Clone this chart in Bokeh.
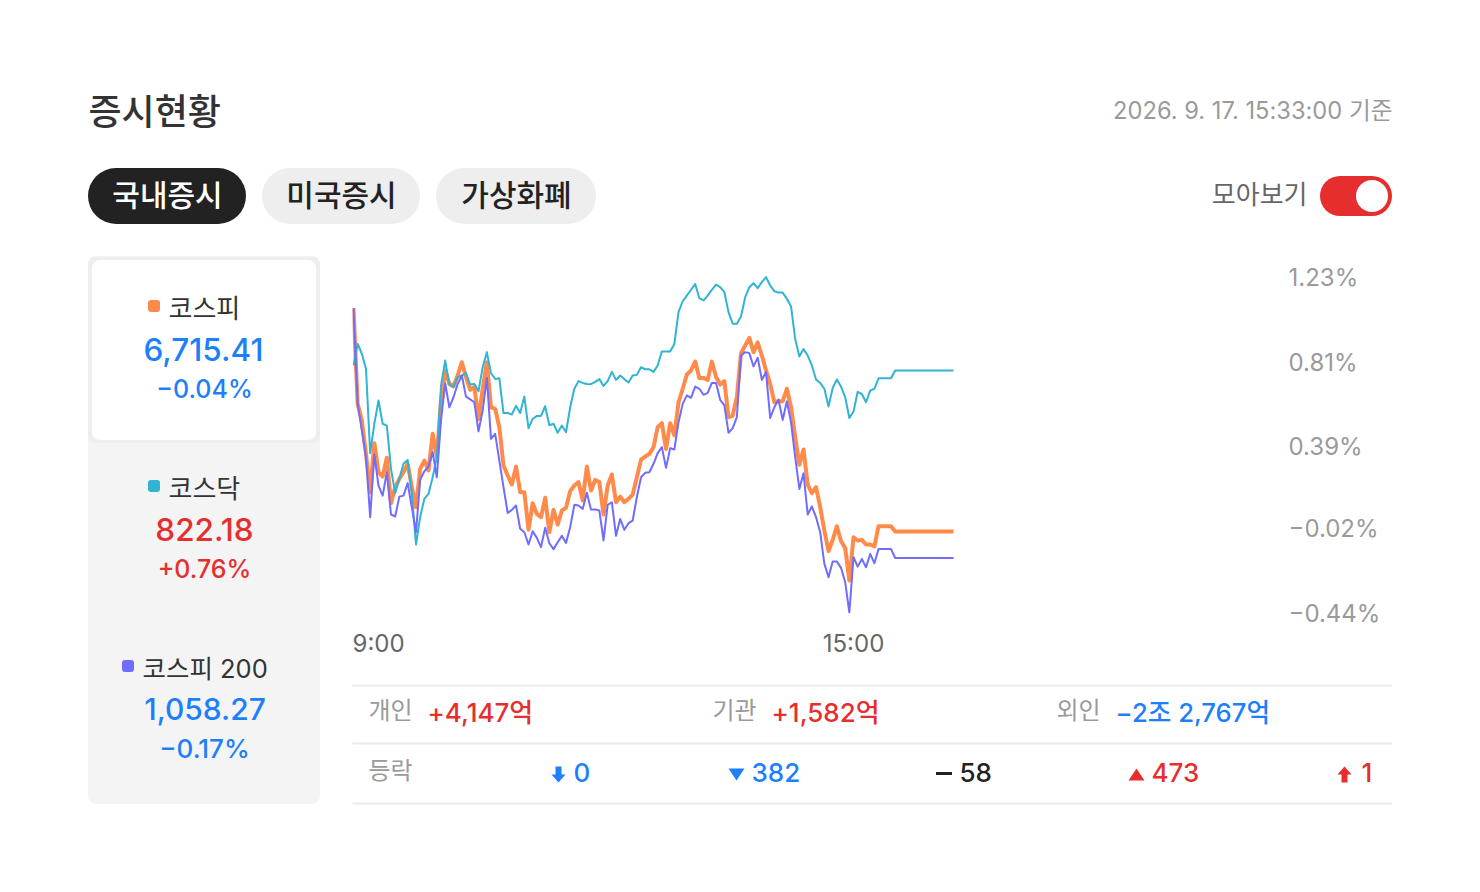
from bokeh.plotting import figure
from bokeh.layouts import column, row
from bokeh.models import Range1d, LinearAxis, FixedTicker, Label, BoxAnnotation, PolyAnnotation
from bokeh.embed import file_html
from bokeh.resources import INLINE

FONT = "Inter, 'Noto Sans CJK KR'"
FONT_M = "'Noto Sans CJK KR Medium', 'Noto Sans CJK KR'"
FONT_V = "'Inter Medium', Inter, 'Noto Sans CJK KR Medium', 'Noto Sans CJK KR'"

minutes = list(range(540, 973, 3))

kospi = [1.078,.602,.519,.353,.163,.406,.262,.241,.334,.108,.188,.229,.262,.304,.188,.088,.279,.320,.271,.453,
 .337,.619,.768,.701,.688,.743,.809,.735,.672,.685,.527,.677,.809,.585,.577,.486,.295,.246,.201,.290,
 .163,.163,-.024,.108,.055,.039,.135,-.036,.075,.002,.072,.085,.168,.196,.213,.122,.290,.171,.224,.213,
 .052,.196,.251,.113,.141,.113,.130,.151,.237,.325,.340,.353,.387,.486,.506,.378,.506,.445,.610,.677,
 .748,.768,.812,.731,.731,.721,.812,.735,.698,.715,.536,.544,.635,.854,.892,.930,.859,.908,.842,.768,
 .701,.610,.615,.615,.677,.585,.436,.300,.375,.201,.158,.188,.088,-.028,-.130,-.074,-.006,-.081,-.114,-.276,
 -.061,-.077,-.074,-.097,-.097,-.107,-.006,-.006,-.006,-.006,-.033,-.033,-.033,-.033,-.033,-.033,-.033,-.033,-.033,-.033,
 -.033,-.033,-.033,-.033,-.033]

kosdaq = [.793,.900,.851,.776,.357,.503,.619,.503,.494,.279,.158,.229,.304,.323,.155,-.097,.039,.130,.155,.237,
 .337,.693,.817,.698,.688,.735,.743,.754,.698,.701,.665,.784,.859,.754,.726,.729,.556,.557,.549,.592,
 .556,.638,.481,.527,.542,.542,.590,.496,.503,.458,.494,.461,.585,.677,.715,.706,.701,.700,.711,.725,
 .691,.715,.761,.721,.743,.725,.708,.743,.746,.784,.774,.774,.761,.793,.862,.862,.862,.900,1.058,1.112,
 1.140,1.169,1.198,1.127,1.116,1.140,1.169,1.195,1.182,1.157,1.058,1.000,1.000,1.036,1.132,1.182,1.202,1.177,1.207,1.232,
 1.190,1.162,1.155,1.155,1.124,1.086,.925,.837,.875,.842,.793,.723,.706,.677,.589,.681,.723,.688,.635,.532,
 .564,.662,.651,.610,.668,.677,.729,.729,.729,.729,.768,.768,.768,.768,.768,.768,.768,.768,.768,.768,
 .768,.768,.768,.768,.768]

kospi200 = [1.078,.602,.469,.337,.039,.350,.196,.146,.262,.052,.042,.141,.146,.208,.088,-.036,.224,.267,.290,.362,
 .237,.519,.705,.585,.635,.701,.743,.638,.624,.610,.465,.569,.731,.428,.453,.320,.188,.060,.075,.097,
 -.019,-.036,-.097,-.031,-.064,-.110,-.014,-.091,-.120,-.086,-.054,-.089,-.011,.100,.097,.080,.160,.077,.077,.072,
 -.077,.100,.113,-.054,.030,-.024,.009,.022,.138,.237,.259,.262,.304,.357,.387,.284,.382,.375,.511,.602,
 .644,.632,.688,.677,.647,.657,.706,.706,.622,.594,.458,.481,.536,.842,.859,.854,.788,.831,.721,.760,
 .532,.585,.624,.522,.615,.511,.337,.179,.257,.052,.092,.039,-.036,-.193,-.260,-.182,-.182,-.213,-.285,-.434,
 -.160,-.207,-.169,-.210,-.144,-.190,-.120,-.120,-.120,-.120,-.164,-.164,-.164,-.164,-.164,-.164,-.164,-.164,-.164,-.164,
 -.164,-.164,-.164,-.164,-.164]

y_ticks = [1.23, 0.81, 0.39, -0.02, -0.44]
y_labels = ["1.23%", "0.81%", "0.39%", "\u22120.02%", "\u22120.44%"]
x_ticks = [556.8, 900]
x_labels = ["9:00", "15:00"]

ORANGE, TEAL, PURPLE = "#ff8a4a", "#30b4d2", "#6f6cff"
BLUE, RED, DARK = "#1e7ffb", "#e62e2e", "#222222"
GRAY = "#9a9a9a"


def panel(l, t, r, b):
    """A figure whose frame is a plain region of the page, in page pixels."""
    f = figure(width=r - l, height=b - t, output_backend="svg", toolbar_location=None,
               x_range=Range1d(l, r), y_range=Range1d(b, t),
               x_axis_type=None, y_axis_type=None, frame_align=False,
               min_border_left=0, min_border_right=0, min_border_top=0, min_border_bottom=0)
    f.outline_line_color = None
    f.grid.visible = False
    return f


def box(f, l, t, r, b, color, radius=0, alpha=1.0):
    f.add_layout(BoxAnnotation(left=l - .5, right=r - .5, top=t - .5, bottom=b - .5,
                               left_units="data", right_units="data",
                               top_units="data", bottom_units="data",
                               fill_color=color, fill_alpha=alpha, line_color=None,
                               border_radius=radius, level="underlay"))


def poly(f, xs, ys, color):
    f.add_layout(PolyAnnotation(xs=xs, ys=ys, xs_units="data", ys_units="data",
                                fill_color=color, fill_alpha=1, line_color=None, level="underlay"))


def text(f, s, x, y, size, color, align="left", font=FONT):
    f.add_layout(Label(x=x, y=y, text=s, text_font=font, text_font_size=f"{size}px",
                       text_color=color, text_align=align, text_baseline="middle"))


# ---------- header
top = panel(0, 0, 1472, 256)
text(top, "증시현황", 88, 108, 36, "#333333", font=FONT_M)
text(top, "2026. 9. 17. 15:33:00 기준", 1392, 110, 23.7, GRAY, "right")
box(top, 88, 168, 246, 224, DARK, 28)
box(top, 262, 168, 420, 224, "#eeeeee", 28)
box(top, 436, 168, 596, 224, "#eeeeee", 28)
text(top, "국내증시", 167, 192, 30, "#ffffff", "center", FONT_M)
text(top, "미국증시", 341, 192, 30, DARK, "center", FONT_M)
text(top, "가상화폐", 516, 192, 30, DARK, "center", FONT_M)
text(top, "모아보기", 1307, 194, 26, "#666666", "right")
box(top, 1320, 176, 1392, 216, "#e62e2e", 20)
box(top, 1356, 180, 1388, 212, "#ffffff", 16)

# ---------- side panel
side = panel(0, 256, 352, 884)
box(side, 88, 256, 320, 804, "#f4f4f4", 8)
box(side, 88, 256, 320, 443, "#eeeeee", 8)
box(side, 92, 260, 316, 440, "#ffffff", 8)

box(side, 148, 300, 160, 312, ORANGE, 3)
text(side, "코스피", 168, 308, 26, "#333333")
text(side, "6,715.41", 203, 348.5, 31.5, BLUE, "center", FONT_V)
text(side, "\u22120.04%", 204, 388, 25, BLUE, "center", FONT_V)

box(side, 148, 480, 160, 492, TEAL, 3)
text(side, "코스닥", 168, 488, 26, "#333333")
text(side, "822.18", 204, 528.5, 31.5, RED, "center", FONT_V)
text(side, "+0.76%", 204, 568, 25, RED, "center", FONT_V)

box(side, 122, 660, 134, 672, PURPLE, 3)
text(side, "코스피 200", 142, 668, 25.5, "#333333")
text(side, "1,058.27", 204.5, 708.5, 30, BLUE, "center", FONT_V)
text(side, "\u22120.17%", 204, 748, 26, BLUE, "center", FONT_V)

# ---------- chart (frame spans page x 352..1280, y 260..616)
p = figure(width=1120, height=428, output_backend="svg", toolbar_location=None,
           x_range=Range1d(539.28, 1207.4), y_range=Range1d(-0.4549, 1.3145),
           x_axis_type=None, y_axis_type=None, frame_align=False,
           min_border_left=0, min_border_right=192, min_border_top=4, min_border_bottom=68)
p.outline_line_color = None
p.grid.visible = False
p.line(minutes, kospi, line_color=ORANGE, line_width=4, line_join="round")
p.line(minutes, kosdaq, line_color=TEAL, line_width=2, line_join="round")
p.line(minutes, kospi200, line_color=PURPLE, line_width=2, line_join="round")
p.add_layout(LinearAxis(ticker=FixedTicker(ticks=y_ticks),
                        major_label_overrides=dict(zip(y_ticks, y_labels)),
                        axis_line_color=None, major_tick_line_color=None, minor_tick_line_color=None,
                        major_label_text_color=GRAY, major_label_text_font=FONT,
                        major_label_text_font_size="24px", major_label_standoff=2), "right")
p.add_layout(LinearAxis(ticker=FixedTicker(ticks=x_ticks),
                        major_label_overrides=dict(zip(x_ticks, x_labels)),
                        axis_line_color=None, major_tick_line_color=None, minor_tick_line_color=None,
                        major_label_text_color="#666666", major_label_text_font=FONT,
                        major_label_text_font_size="24px", major_label_standoff=6), "below")

# ---------- tables
bot = panel(352, 684, 1472, 884)
for y in (684.5, 742.5, 802.5):
    box(bot, 352, y, 1392, y + 2, "#eaeaea")
text(bot, "개인", 368, 710, 24, GRAY)
text(bot, "+4,147억", 427, 712, 26, RED, font=FONT_V)
text(bot, "기관", 712, 710, 24, GRAY)
text(bot, "+1,582억", 771, 712, 26, RED, font=FONT_V)
text(bot, "외인", 1056, 710, 24, GRAY)
text(bot, "\u22122조 2,767억", 1115, 712, 25.7, BLUE, font=FONT_V)
text(bot, "등락", 368, 770, 24, GRAY)
poly(bot, [555, 561, 561, 565, 558, 551, 555], [766, 766, 774, 774, 782, 774, 774], BLUE)
text(bot, "0", 573, 772, 26, BLUE, font=FONT_V)
poly(bot, [728, 744, 736], [768, 768, 780], BLUE)
text(bot, "382", 751, 772, 26, BLUE, font=FONT_V)
box(bot, 936, 772, 952, 775, DARK)
text(bot, "58", 959, 772, 26, DARK, font=FONT_V)
poly(bot, [1128, 1144, 1136], [780, 780, 768], RED)
text(bot, "473", 1151, 772, 26, RED, font=FONT_V)
poly(bot, [1341, 1347, 1347, 1351, 1344, 1337, 1341], [782, 782, 774, 774, 766, 774, 774], RED)
text(bot, "1", 1361, 772, 26, RED, font=FONT_V)

page = column(top, row(side, column(p, bot)))
open("out.html", "w").write(file_html(page, INLINE))
